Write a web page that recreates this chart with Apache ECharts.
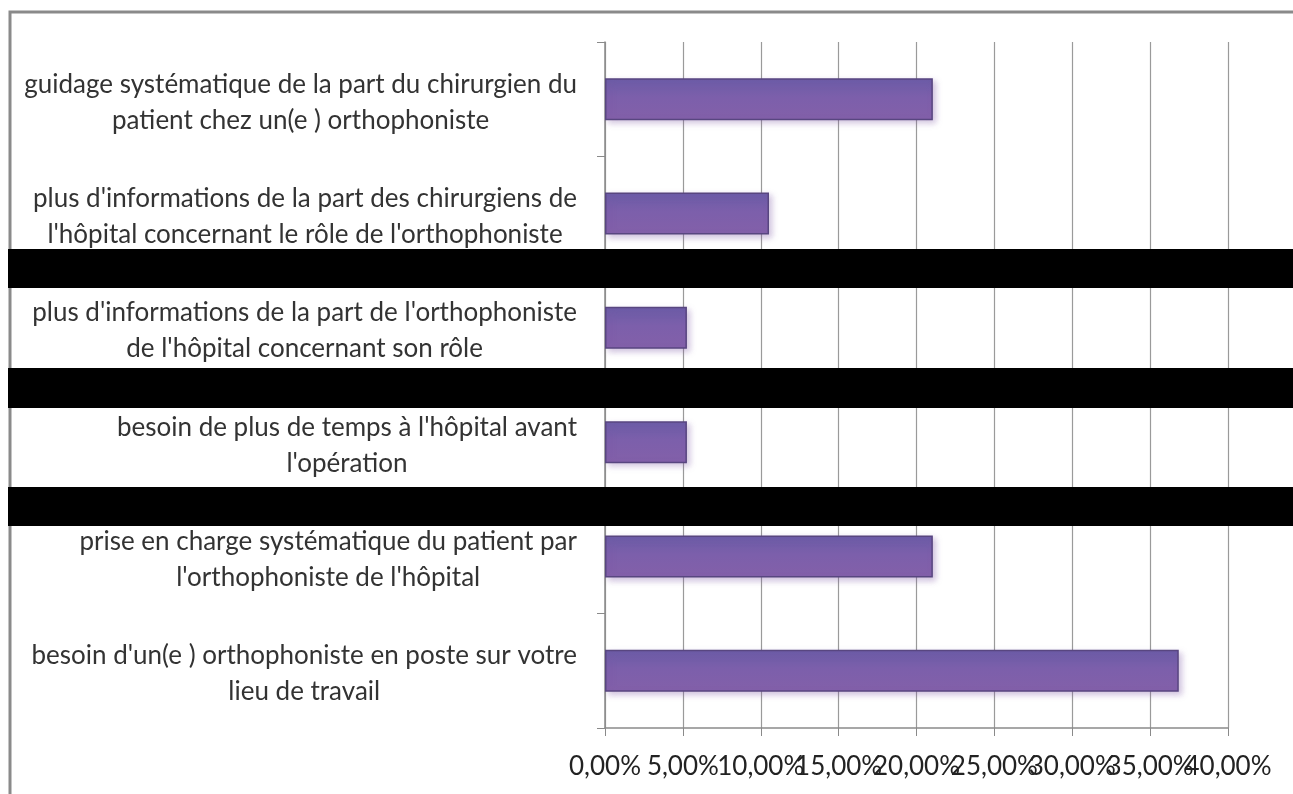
<!DOCTYPE html>
<html>
<head>
<meta charset="utf-8">
<script src="https://cdn.jsdelivr.net/npm/echarts@6/dist/echarts.min.js"></script>
<style>
  html, body { margin: 0; padding: 0; background: #fff; }
  #chart { width: 1293px; height: 794px; }
</style>
</head>
<body>
<div id="chart"></div>
<script>
// catégories (de haut en bas)
const categories = [
  "guidage systématique de la part du chirurgien du\npatient chez un(e ) orthophoniste",
  "plus d'informations de la part des chirurgiens de\nl'hôpital concernant le rôle de l'orthophoniste",
  "plus d'informations de la part de l'orthophoniste\nde l'hôpital concernant son rôle",
  "besoin de plus de temps à l'hôpital avant\nl'opération",
  "prise en charge systématique du patient par\nl'orthophoniste de l'hôpital",
  "besoin d'un(e ) orthophoniste en poste sur votre\nlieu de travail"
];
// pourcentages
const values = [21.05, 10.53, 5.26, 5.26, 21.05, 36.84];
const xTicks = [0, 5, 10, 15, 20, 25, 30, 35, 40];

const fmtPct = (v) => v.toFixed(2).replace('.', ',') + '%';

// deux axes identiques : l'un porte les étiquettes paires, l'autre les impaires,
// pour qu'elles se chevauchent comme dans l'original sans être masquées
function makeXAxis(even, main) {
  return {
    type: 'value',
    position: 'bottom',
    min: xTicks[0],
    max: xTicks[xTicks.length - 1],
    interval: 5,
    axisLine: { show: main, lineStyle: { color: '#8a8a8a', width: 1.5 } },
    axisTick: { show: main, length: 8, lineStyle: { color: '#8a8a8a' } },
    splitLine: { show: main, lineStyle: { color: '#9a9a9a', width: 1.2 } },
    axisLabel: {
      margin: 26,
      fontSize: 26,
      color: '#222',
      showMinLabel: true,
      showMaxLabel: true,
      formatter: (v) => ((Math.round(v / 5) % 2 === 0) === even ? fmtPct(v) : '')
    }
  };
}

const chart = echarts.init(document.getElementById('chart'));
chart.setOption({
  animation: false,
  textStyle: { fontFamily: 'Lato, "Open Sans", sans-serif' },
  grid: { left: 605, right: 65, top: 42, bottom: 66 },
  xAxis: [makeXAxis(true, true), makeXAxis(false, false)],
  yAxis: {
    type: 'category',
    inverse: true,
    data: categories,
    axisLine: { show: true, lineStyle: { color: '#8a8a8a', width: 1.5 } },
    axisTick: { show: true, length: 8, lineStyle: { color: '#8a8a8a' } },
    axisLabel: {
      margin: 28,
      align: 'right',
      // lignes centrées dans le bloc aligné à droite
      formatter: (v) => v.split('\n').map((l) => '{c|' + l + '}').join('\n'),
      rich: {
        c: { align: 'center', fontSize: 26, lineHeight: 36, color: '#333', padding: [6, 0, 0, 0] }
      }
    }
  },
  series: [{
    type: 'bar',
    xAxisIndex: 0,
    data: values,
    barWidth: 42,
    itemStyle: {
      color: new echarts.graphic.LinearGradient(0, 0, 0, 1, [
        { offset: 0, color: '#6a5ca6' },
        { offset: 0.45, color: '#7c5fab' },
        { offset: 1, color: '#8360a9' }
      ]),
      borderColor: '#584680',
      borderWidth: 1.5,
      shadowColor: 'rgba(120,80,160,0.35)',
      shadowBlur: 6,
      shadowOffsetX: 3,
      shadowOffsetY: 3
    }
  }],
  graphic: [
    // cadre
    { type: 'polyline', shape: { points: [[10, 794], [10, 12], [1293, 12]] },
      style: { stroke: '#8a8a8a', lineWidth: 3, fill: null } },
    // bandes noires
    { type: 'rect', shape: { x: 8, y: 249, width: 1285, height: 39 }, style: { fill: '#000' }, z: 100 },
    { type: 'rect', shape: { x: 8, y: 368, width: 1285, height: 40 }, style: { fill: '#000' }, z: 100 },
    { type: 'rect', shape: { x: 8, y: 487, width: 1285, height: 39 }, style: { fill: '#000' }, z: 100 }
  ]
});
</script>
</body>
</html>
